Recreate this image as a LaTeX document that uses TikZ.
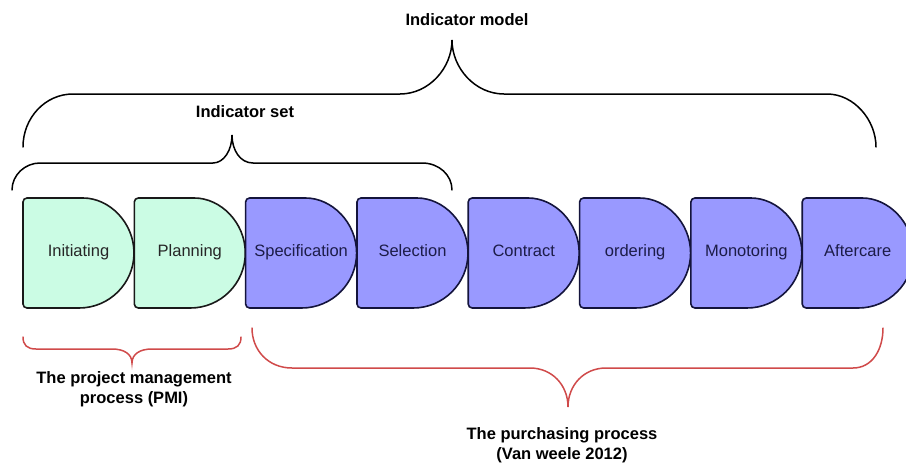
\documentclass[tikz,border=0pt]{standalone}
\usepackage{fontspec}
\setmainfont{Liberation Sans}
\definecolor{mint}{HTML}{CBFCE4}
\definecolor{lilac}{HTML}{9999FF}
\definecolor{navyline}{HTML}{14143C}
\definecolor{navytext}{HTML}{1C1C48}
\definecolor{bracered}{HTML}{D04A4A}
\begin{document}
\begin{tikzpicture}[x=1pt,y=-1pt,
  stage/.style={line width=1.6pt, rounded corners=4pt},
  pmistage/.style={stage, draw=black!90, fill=mint},
  buystage/.style={stage, draw=navyline, fill=lilac},
  pmilabel/.style={font=\fontsize{16.5}{19}\selectfont, inner sep=0pt, anchor=base, text=black!85},
  buylabel/.style={font=\fontsize{16.5}{19}\selectfont, inner sep=0pt, anchor=base, text=navytext},
  brace/.style={line width=1.5pt, line cap=round},
  blackbrace/.style={brace, draw=black},
  redbrace/.style={brace, draw=bracered},
  title/.style={font=\fontsize{16.5}{20}\selectfont\bfseries, align=center, inner sep=0pt}]
  % canvas
  \clip (0,0) rectangle (906,466);
  \fill[white] (0,0) rectangle (906,466);

  % process stages (delay shapes)
  \foreach \x/\name/\txt/\kind in {
      23/init/Initiating/pmi,
      134.3/plan/Planning/pmi,
      245.6/spec/Specification/buy,
      357/sel/Selection/buy,
      468.2/contract/Contract/buy,
      579.6/order/ordering/buy,
      690.9/monitor/Monotoring/buy,
      802.2/after/Aftercare/buy} {
    \draw[\kind stage] (\x+56,308) -- (\x,308) -- (\x,198) -- (\x+56,198)
      [sharp corners] arc[start angle=90, end angle=-90, radius=55pt] -- cycle;
    \node[\kind label] (\name) at (\x+55.5,256.5) {\txt};
  }

  % indicator model brace
  \draw[blackbrace] (23,147) .. controls (23,118) and (45,94) .. (73,94)
    -- (400,94) .. controls (429,94) and (452,68) .. (452,40)
    .. controls (452,68) and (475,94) .. (504,94)
    -- (827,94) .. controls (854,94) and (876,120) .. (876,147);
  \node[title] (model) at (467,20) {Indicator model};

  % indicator set brace
  \draw[blackbrace] (12,190) .. controls (12,175) and (25,163) .. (40,163)
    -- (213,163) .. controls (224,163) and (232,150) .. (232,135)
    .. controls (232,150) and (240,163) .. (253,163)
    -- (422,163) .. controls (439,163) and (452,175) .. (452,190);
  \node[title] (set) at (245,112) {Indicator set};

  % project management brace
  \draw[redbrace] (23,337) .. controls (23,345) and (27,349) .. (36,349)
    -- (112,349) .. controls (124,349) and (132,354) .. (132,363)
    .. controls (132,354) and (140,349) .. (152,349)
    -- (228,349) .. controls (237,349) and (241,345) .. (241,337);
  \node[title] (pmi) at (134,389) {The project management\\process (PMI)};

  % purchasing process brace
  \draw[redbrace] (252,328) .. controls (252,350) and (268,368) .. (292,368)
    -- (530,368) .. controls (552,368) and (568,385) .. (568,407)
    .. controls (568,385) and (584,368) .. (606,368)
    -- (853,368) .. controls (872,368) and (883,350) .. (883,328);
  \node[title] (buying) at (562,445) {The purchasing process\\(Van weele 2012)};
\end{tikzpicture}
\end{document}
